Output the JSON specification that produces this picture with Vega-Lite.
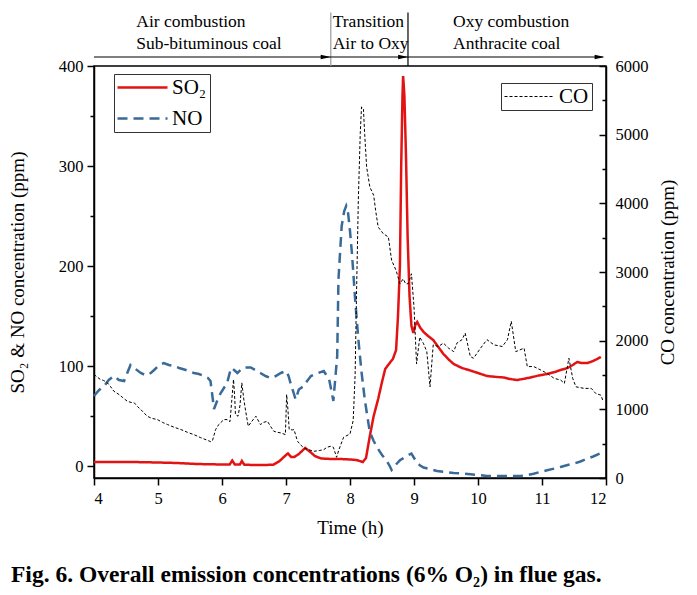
{
  "$schema": "https://vega.github.io/schema/vega-lite/v6.json",
  "width": 512,
  "height": 412,
  "autosize": "none",
  "padding": {"left": 94, "top": 66, "right": 91, "bottom": 117},
  "config": {
    "font": "Liberation Serif",
    "view": {"stroke": "black", "strokeWidth": 1.5},
    "axis": {"domainColor": "black", "domainWidth": 1.5, "tickColor": "black", "tickWidth": 1.5, "labelColor": "black", "titleColor": "black", "labelFont": "Liberation Serif", "titleFont": "Liberation Serif", "labelFontSize": 16.5, "titleFontSize": 19, "titleFontWeight": "normal", "grid": false},
    "legend": {"labelFont": "Liberation Serif", "labelFontSize": 21, "labelColor": "black"}
  },
  "title": {"text": "Fig. 6. Overall emission concentrations (6% O₂) in flue gas.", "orient": "bottom", "anchor": "start", "frame": "group", "font": "Liberation Serif", "fontSize": 23.5, "fontWeight": "bold", "color": "black", "dx": -83, "offset": 25},
  "datasets": {
    "gases": [
      {"t": 4.0, "v": 4, "s": "SO₂"}, {"t": 4.3, "v": 4, "s": "SO₂"}, {"t": 4.6, "v": 4, "s": "SO₂"}, {"t": 5.0, "v": 3.5, "s": "SO₂"}, {"t": 5.3, "v": 3, "s": "SO₂"}, {"t": 5.6, "v": 2, "s": "SO₂"}, {"t": 6.0, "v": 1.5, "s": "SO₂"}, {"t": 6.12, "v": 1.5, "s": "SO₂"}, {"t": 6.16, "v": 5.5, "s": "SO₂"}, {"t": 6.2, "v": 1.5, "s": "SO₂"}, {"t": 6.28, "v": 1.5, "s": "SO₂"}, {"t": 6.31, "v": 5, "s": "SO₂"}, {"t": 6.35, "v": 1.2, "s": "SO₂"}, {"t": 6.6, "v": 1, "s": "SO₂"}, {"t": 6.8, "v": 1.2, "s": "SO₂"}, {"t": 6.9, "v": 5, "s": "SO₂"}, {"t": 7.0, "v": 11, "s": "SO₂"}, {"t": 7.03, "v": 12.5, "s": "SO₂"}, {"t": 7.08, "v": 9, "s": "SO₂"}, {"t": 7.13, "v": 9, "s": "SO₂"}, {"t": 7.2, "v": 12, "s": "SO₂"}, {"t": 7.3, "v": 18, "s": "SO₂"}, {"t": 7.38, "v": 14, "s": "SO₂"}, {"t": 7.45, "v": 10, "s": "SO₂"}, {"t": 7.55, "v": 7.5, "s": "SO₂"}, {"t": 7.7, "v": 7, "s": "SO₂"}, {"t": 7.85, "v": 7, "s": "SO₂"}, {"t": 8.0, "v": 6.5, "s": "SO₂"}, {"t": 8.1, "v": 6, "s": "SO₂"}, {"t": 8.2, "v": 4, "s": "SO₂"}, {"t": 8.25, "v": 8, "s": "SO₂"}, {"t": 8.31, "v": 30, "s": "SO₂"}, {"t": 8.37, "v": 50, "s": "SO₂"}, {"t": 8.44, "v": 67, "s": "SO₂"}, {"t": 8.5, "v": 84, "s": "SO₂"}, {"t": 8.55, "v": 97, "s": "SO₂"}, {"t": 8.62, "v": 103, "s": "SO₂"}, {"t": 8.67, "v": 107, "s": "SO₂"}, {"t": 8.72, "v": 116, "s": "SO₂"}, {"t": 8.75, "v": 150, "s": "SO₂"}, {"t": 8.78, "v": 200, "s": "SO₂"}, {"t": 8.8, "v": 300, "s": "SO₂"}, {"t": 8.82, "v": 370, "s": "SO₂"}, {"t": 8.83, "v": 390, "s": "SO₂"}, {"t": 8.85, "v": 370, "s": "SO₂"}, {"t": 8.875, "v": 310, "s": "SO₂"}, {"t": 8.9, "v": 230, "s": "SO₂"}, {"t": 8.93, "v": 170, "s": "SO₂"}, {"t": 8.96, "v": 140, "s": "SO₂"}, {"t": 8.99, "v": 133, "s": "SO₂"}, {"t": 9.02, "v": 141, "s": "SO₂"}, {"t": 9.05, "v": 144, "s": "SO₂"}, {"t": 9.1, "v": 138, "s": "SO₂"}, {"t": 9.15, "v": 134, "s": "SO₂"}, {"t": 9.22, "v": 130, "s": "SO₂"}, {"t": 9.3, "v": 126, "s": "SO₂"}, {"t": 9.38, "v": 119, "s": "SO₂"}, {"t": 9.46, "v": 112, "s": "SO₂"}, {"t": 9.55, "v": 106, "s": "SO₂"}, {"t": 9.62, "v": 102, "s": "SO₂"}, {"t": 9.75, "v": 98, "s": "SO₂"}, {"t": 9.88, "v": 95.5, "s": "SO₂"}, {"t": 10.0, "v": 93, "s": "SO₂"}, {"t": 10.14, "v": 90, "s": "SO₂"}, {"t": 10.3, "v": 89, "s": "SO₂"}, {"t": 10.4, "v": 88.5, "s": "SO₂"}, {"t": 10.5, "v": 87, "s": "SO₂"}, {"t": 10.61, "v": 86, "s": "SO₂"}, {"t": 10.7, "v": 87, "s": "SO₂"}, {"t": 10.82, "v": 88.5, "s": "SO₂"}, {"t": 10.95, "v": 90.5, "s": "SO₂"}, {"t": 11.08, "v": 92, "s": "SO₂"}, {"t": 11.2, "v": 94, "s": "SO₂"}, {"t": 11.29, "v": 96, "s": "SO₂"}, {"t": 11.4, "v": 98, "s": "SO₂"}, {"t": 11.48, "v": 101, "s": "SO₂"}, {"t": 11.55, "v": 104, "s": "SO₂"}, {"t": 11.62, "v": 103, "s": "SO₂"}, {"t": 11.71, "v": 103, "s": "SO₂"}, {"t": 11.8, "v": 105, "s": "SO₂"}, {"t": 11.92, "v": 109, "s": "SO₂"},
      {"t": 4.0, "v": 70, "s": "NO"}, {"t": 4.08, "v": 76, "s": "NO"}, {"t": 4.16, "v": 80, "s": "NO"}, {"t": 4.23, "v": 86, "s": "NO"}, {"t": 4.31, "v": 90, "s": "NO"}, {"t": 4.39, "v": 86, "s": "NO"}, {"t": 4.47, "v": 85, "s": "NO"}, {"t": 4.52, "v": 93, "s": "NO"}, {"t": 4.57, "v": 101, "s": "NO"}, {"t": 4.65, "v": 97, "s": "NO"}, {"t": 4.73, "v": 93, "s": "NO"}, {"t": 4.8, "v": 91, "s": "NO"}, {"t": 4.86, "v": 91.5, "s": "NO"}, {"t": 4.94, "v": 96, "s": "NO"}, {"t": 5.02, "v": 101, "s": "NO"}, {"t": 5.09, "v": 103, "s": "NO"}, {"t": 5.17, "v": 101, "s": "NO"}, {"t": 5.25, "v": 100, "s": "NO"}, {"t": 5.33, "v": 98, "s": "NO"}, {"t": 5.41, "v": 96.5, "s": "NO"}, {"t": 5.48, "v": 95, "s": "NO"}, {"t": 5.56, "v": 93, "s": "NO"}, {"t": 5.64, "v": 92, "s": "NO"}, {"t": 5.72, "v": 90, "s": "NO"}, {"t": 5.78, "v": 88, "s": "NO"}, {"t": 5.82, "v": 85, "s": "NO"}, {"t": 5.85, "v": 70, "s": "NO"}, {"t": 5.875, "v": 57, "s": "NO"}, {"t": 5.93, "v": 66, "s": "NO"}, {"t": 5.98, "v": 73, "s": "NO"}, {"t": 6.03, "v": 78, "s": "NO"}, {"t": 6.08, "v": 83, "s": "NO"}, {"t": 6.14, "v": 98, "s": "NO"}, {"t": 6.19, "v": 96, "s": "NO"}, {"t": 6.24, "v": 93, "s": "NO"}, {"t": 6.29, "v": 96, "s": "NO"}, {"t": 6.34, "v": 98.5, "s": "NO"}, {"t": 6.45, "v": 98.5, "s": "NO"}, {"t": 6.52, "v": 96, "s": "NO"}, {"t": 6.6, "v": 93, "s": "NO"}, {"t": 6.68, "v": 90, "s": "NO"}, {"t": 6.76, "v": 88, "s": "NO"}, {"t": 6.84, "v": 90, "s": "NO"}, {"t": 6.92, "v": 93, "s": "NO"}, {"t": 7.0, "v": 95, "s": "NO"}, {"t": 7.04, "v": 90, "s": "NO"}, {"t": 7.07, "v": 83, "s": "NO"}, {"t": 7.12, "v": 73, "s": "NO"}, {"t": 7.15, "v": 66.5, "s": "NO"}, {"t": 7.2, "v": 76.5, "s": "NO"}, {"t": 7.28, "v": 80, "s": "NO"}, {"t": 7.33, "v": 85, "s": "NO"}, {"t": 7.39, "v": 90, "s": "NO"}, {"t": 7.5, "v": 93, "s": "NO"}, {"t": 7.59, "v": 95, "s": "NO"}, {"t": 7.64, "v": 90, "s": "NO"}, {"t": 7.67, "v": 88, "s": "NO"}, {"t": 7.72, "v": 72, "s": "NO"}, {"t": 7.74, "v": 65, "s": "NO"}, {"t": 7.78, "v": 95, "s": "NO"}, {"t": 7.8, "v": 110, "s": "NO"}, {"t": 7.82, "v": 187, "s": "NO"}, {"t": 7.87, "v": 240, "s": "NO"}, {"t": 7.91, "v": 255, "s": "NO"}, {"t": 7.94, "v": 260, "s": "NO"}, {"t": 7.97, "v": 253, "s": "NO"}, {"t": 8.0, "v": 235, "s": "NO"}, {"t": 8.03, "v": 213, "s": "NO"}, {"t": 8.08, "v": 167, "s": "NO"}, {"t": 8.13, "v": 127, "s": "NO"}, {"t": 8.18, "v": 94, "s": "NO"}, {"t": 8.23, "v": 67, "s": "NO"}, {"t": 8.27, "v": 50, "s": "NO"}, {"t": 8.31, "v": 34, "s": "NO"}, {"t": 8.37, "v": 25, "s": "NO"}, {"t": 8.44, "v": 17, "s": "NO"}, {"t": 8.5, "v": 11, "s": "NO"}, {"t": 8.57, "v": 5.7, "s": "NO"}, {"t": 8.62, "v": 0, "s": "NO"}, {"t": 8.65, "v": -4, "s": "NO"}, {"t": 8.7, "v": 0, "s": "NO"}, {"t": 8.74, "v": 3, "s": "NO"}, {"t": 8.78, "v": 5.7, "s": "NO"}, {"t": 8.84, "v": 8, "s": "NO"}, {"t": 8.9, "v": 10.5, "s": "NO"}, {"t": 8.96, "v": 12.4, "s": "NO"}, {"t": 9.02, "v": 6, "s": "NO"}, {"t": 9.09, "v": 0.7, "s": "NO"}, {"t": 9.15, "v": -1.5, "s": "NO"}, {"t": 9.25, "v": -3, "s": "NO"}, {"t": 9.36, "v": -5, "s": "NO"}, {"t": 9.5, "v": -6, "s": "NO"}, {"t": 9.62, "v": -7, "s": "NO"}, {"t": 9.75, "v": -7.5, "s": "NO"}, {"t": 9.88, "v": -8.3, "s": "NO"}, {"t": 10.0, "v": -9, "s": "NO"}, {"t": 10.14, "v": -10, "s": "NO"}, {"t": 10.4, "v": -10, "s": "NO"}, {"t": 10.66, "v": -10, "s": "NO"}, {"t": 10.77, "v": -9, "s": "NO"}, {"t": 10.87, "v": -7.7, "s": "NO"}, {"t": 10.97, "v": -6, "s": "NO"}, {"t": 11.08, "v": -4.3, "s": "NO"}, {"t": 11.2, "v": -2.5, "s": "NO"}, {"t": 11.29, "v": -1, "s": "NO"}, {"t": 11.4, "v": 1, "s": "NO"}, {"t": 11.5, "v": 2.4, "s": "NO"}, {"t": 11.6, "v": 4.5, "s": "NO"}, {"t": 11.71, "v": 7.4, "s": "NO"}, {"t": 11.8, "v": 9.5, "s": "NO"}, {"t": 11.92, "v": 13, "s": "NO"}, {"t": 11.95, "v": 15, "s": "NO"}
    ],
    "co": [
      {"t": 4.0, "c": 1508}, {"t": 4.05, "c": 1470}, {"t": 4.1, "c": 1435}, {"t": 4.15, "c": 1420}, {"t": 4.21, "c": 1385}, {"t": 4.26, "c": 1330}, {"t": 4.31, "c": 1264}, {"t": 4.35, "c": 1240}, {"t": 4.39, "c": 1216}, {"t": 4.45, "c": 1170}, {"t": 4.52, "c": 1118}, {"t": 4.58, "c": 1100}, {"t": 4.63, "c": 1094}, {"t": 4.68, "c": 1040}, {"t": 4.73, "c": 997}, {"t": 4.78, "c": 950}, {"t": 4.83, "c": 900}, {"t": 4.9, "c": 870}, {"t": 4.99, "c": 851}, {"t": 5.07, "c": 810}, {"t": 5.15, "c": 778}, {"t": 5.25, "c": 740}, {"t": 5.36, "c": 705}, {"t": 5.46, "c": 665}, {"t": 5.56, "c": 632}, {"t": 5.66, "c": 590}, {"t": 5.77, "c": 550}, {"t": 5.82, "c": 530}, {"t": 5.85, "c": 540}, {"t": 5.88, "c": 640}, {"t": 5.9, "c": 705}, {"t": 5.95, "c": 780}, {"t": 6.03, "c": 851}, {"t": 6.08, "c": 851}, {"t": 6.125, "c": 821}, {"t": 6.15, "c": 1100}, {"t": 6.18, "c": 1435}, {"t": 6.2, "c": 1150}, {"t": 6.21, "c": 924}, {"t": 6.25, "c": 900}, {"t": 6.28, "c": 1050}, {"t": 6.31, "c": 1385}, {"t": 6.34, "c": 1150}, {"t": 6.37, "c": 972}, {"t": 6.41, "c": 754}, {"t": 6.47, "c": 830}, {"t": 6.53, "c": 900}, {"t": 6.6, "c": 778}, {"t": 6.65, "c": 810}, {"t": 6.71, "c": 826}, {"t": 6.76, "c": 750}, {"t": 6.81, "c": 680}, {"t": 6.87, "c": 665}, {"t": 6.92, "c": 656}, {"t": 6.99, "c": 632}, {"t": 7.0, "c": 900}, {"t": 7.01, "c": 1216}, {"t": 7.03, "c": 1000}, {"t": 7.05, "c": 705}, {"t": 7.1, "c": 700}, {"t": 7.125, "c": 705}, {"t": 7.18, "c": 535}, {"t": 7.23, "c": 480}, {"t": 7.28, "c": 437}, {"t": 7.36, "c": 410}, {"t": 7.44, "c": 389}, {"t": 7.52, "c": 400}, {"t": 7.59, "c": 413}, {"t": 7.64, "c": 448}, {"t": 7.7, "c": 462}, {"t": 7.74, "c": 448}, {"t": 7.79, "c": 302}, {"t": 7.83, "c": 420}, {"t": 7.9, "c": 593}, {"t": 8.0, "c": 642}, {"t": 8.05, "c": 837}, {"t": 8.08, "c": 1500}, {"t": 8.1, "c": 2587}, {"t": 8.13, "c": 4045}, {"t": 8.16, "c": 5016}, {"t": 8.18, "c": 5405}, {"t": 8.21, "c": 5370}, {"t": 8.23, "c": 5000}, {"t": 8.26, "c": 4530}, {"t": 8.31, "c": 4238}, {"t": 8.37, "c": 4117}, {"t": 8.4, "c": 3900}, {"t": 8.44, "c": 3655}, {"t": 8.52, "c": 3558}, {"t": 8.6, "c": 3509}, {"t": 8.65, "c": 3170}, {"t": 8.72, "c": 3024}, {"t": 8.78, "c": 2829}, {"t": 8.83, "c": 2900}, {"t": 8.87, "c": 2829}, {"t": 8.91, "c": 2829}, {"t": 8.96, "c": 2974}, {"t": 9.0, "c": 2489}, {"t": 9.04, "c": 1662}, {"t": 9.09, "c": 2051}, {"t": 9.15, "c": 1954}, {"t": 9.2, "c": 1841}, {"t": 9.25, "c": 1328}, {"t": 9.3, "c": 1939}, {"t": 9.38, "c": 1915}, {"t": 9.46, "c": 1964}, {"t": 9.54, "c": 1891}, {"t": 9.62, "c": 1841}, {"t": 9.67, "c": 1964}, {"t": 9.75, "c": 2014}, {"t": 9.8, "c": 2110}, {"t": 9.88, "c": 1768}, {"t": 9.93, "c": 1744}, {"t": 10.04, "c": 1891}, {"t": 10.14, "c": 2014}, {"t": 10.25, "c": 1939}, {"t": 10.38, "c": 1915}, {"t": 10.46, "c": 2014}, {"t": 10.52, "c": 2282}, {"t": 10.59, "c": 1841}, {"t": 10.72, "c": 1891}, {"t": 10.77, "c": 1623}, {"t": 10.87, "c": 1623}, {"t": 10.98, "c": 1573}, {"t": 11.08, "c": 1524}, {"t": 11.19, "c": 1451}, {"t": 11.29, "c": 1427}, {"t": 11.35, "c": 1378}, {"t": 11.42, "c": 1744}, {"t": 11.48, "c": 1451}, {"t": 11.53, "c": 1328}, {"t": 11.66, "c": 1305}, {"t": 11.77, "c": 1305}, {"t": 11.84, "c": 1231}, {"t": 11.92, "c": 1206}, {"t": 11.95, "c": 1130}
    ],
    "phaseText": [
      {"t": 4.66, "v": 443.6, "label": "Air combustion"},
      {"t": 4.66, "v": 421.7, "label": "Sub-bituminous coal"},
      {"t": 7.73, "v": 443.6, "label": "Transition"},
      {"t": 7.73, "v": 421.7, "label": "Air to Oxy"},
      {"t": 9.61, "v": 443.6, "label": "Oxy combustion"},
      {"t": 9.61, "v": 421.7, "label": "Anthracite coal"}
    ],
    "phaseLines": [
      {"t": 7.70, "v": 400, "v2": 453.5, "kind": "a"},
      {"t": 8.906, "v": 400, "v2": 453.5, "kind": "b"}
    ],
    "arrowLine": [{"t": 4.0, "t2": 11.95, "v": 409}],
    "arrowHeads": [{"t": 7.62, "v": 409}, {"t": 8.83, "v": 409}, {"t": 11.9, "v": 409}]
  },
  "layer": [
    {
      "layer": [
        {
          "data": {"name": "gases"},
          "mark": {"type": "line", "strokeWidth": 2.5},
          "encoding": {
            "x": {"field": "t", "type": "quantitative", "scale": {"domain": [4, 12], "nice": false, "zero": false},
              "axis": {"title": "Time (h)", "values": [4, 4.5, 5, 5.5, 6, 6.5, 7, 7.5, 8, 8.5, 9, 9.5, 10, 10.5, 11, 11.5, 12],
                "labelExpr": "datum.value % 1 === 0 ? format(datum.value, 'd') : ''",
                "tickSize": {"condition": {"test": "datum.value % 1 === 0", "value": 7}, "value": 4},
                "labelPadding": 5, "titlePadding": 12}},
            "y": {"field": "v", "type": "quantitative", "scale": {"domain": [-12, 400], "nice": false, "zero": false},
              "axis": {"title": "SO₂ & NO concentration (ppm)", "values": [0, 50, 100, 150, 200, 250, 300, 350, 400],
                "labelExpr": "datum.value % 100 === 0 ? format(datum.value, 'd') : ''",
                "tickSize": {"condition": {"test": "datum.value % 100 === 0", "value": 7}, "value": 4},
                "labelPadding": 4, "titlePadding": 31}},
            "color": {"field": "s", "type": "nominal", "scale": {"domain": ["SO₂", "NO"], "range": ["#e31313", "#3a6a97"]},
              "legend": {"title": null, "orient": "none", "legendX": 20, "legendY": 8, "symbolType": "M-2,0H8", "symbolSize": 100, "symbolStrokeWidth": 2.5, "strokeColor": "#333", "padding": 3, "labelOffset": 34, "rowPadding": 9, "labelFontSize": 21}},
            "strokeDash": {"field": "s", "type": "nominal", "scale": {"domain": ["SO₂", "NO"], "range": [[1, 0], [10, 6]]},
              "legend": {"title": null, "orient": "none", "legendX": 20, "legendY": 8, "symbolType": "M-2,0H8", "symbolSize": 100, "symbolStrokeWidth": 2.5, "strokeColor": "#333", "padding": 3, "labelOffset": 34, "rowPadding": 9, "labelFontSize": 21}}
          }
        },
        {
          "data": {"name": "phaseLines"},
          "mark": {"type": "rule", "strokeWidth": 1.2},
          "encoding": {
            "x": {"field": "t", "type": "quantitative"},
            "y": {"field": "v", "type": "quantitative", "scale": {"domain": [-12, 400], "nice": false, "zero": false}},
            "y2": {"field": "v2"},
            "stroke": {"field": "kind", "type": "nominal", "scale": {"domain": ["a", "b"], "range": ["#9a9a9a", "black"]}, "legend": null}
          }
        },
        {
          "data": {"name": "arrowLine"},
          "mark": {"type": "rule", "strokeWidth": 1.2, "color": "black"},
          "encoding": {
            "x": {"field": "t", "type": "quantitative"},
            "x2": {"field": "t2"},
            "y": {"field": "v", "type": "quantitative", "scale": {"domain": [-12, 400], "nice": false, "zero": false}}
          }
        },
        {
          "data": {"name": "arrowHeads"},
          "mark": {"type": "point", "shape": "M1,0L-1,-0.45L-1,0.45Z", "filled": true, "color": "black", "opacity": 1, "size": 100},
          "encoding": {
            "x": {"field": "t", "type": "quantitative"},
            "y": {"field": "v", "type": "quantitative", "scale": {"domain": [-12, 400], "nice": false, "zero": false}}
          }
        },
        {
          "data": {"name": "phaseText"},
          "mark": {"type": "text", "align": "left", "baseline": "middle", "font": "Liberation Serif", "fontSize": 17.5, "color": "black"},
          "encoding": {
            "x": {"field": "t", "type": "quantitative"},
            "y": {"field": "v", "type": "quantitative", "scale": {"domain": [-12, 400], "nice": false, "zero": false}},
            "text": {"field": "label"}
          }
        }
      ]
    },
    {
      "data": {"name": "co"},
      "transform": [{"calculate": "'CO'", "as": "s"}],
      "mark": {"type": "line", "strokeWidth": 1},
      "encoding": {
        "x": {"field": "t", "type": "quantitative"},
        "y": {"field": "c", "type": "quantitative", "scale": {"domain": [0, 6000], "nice": false, "zero": false},
          "axis": {"orient": "right", "title": "CO concentration (ppm)", "values": [0, 500, 1000, 1500, 2000, 2500, 3000, 3500, 4000, 4500, 5000, 5500, 6000],
            "labelExpr": "datum.value % 1000 === 0 ? format(datum.value, 'd') : ''",
            "tickSize": {"condition": {"test": "datum.value % 1000 === 0", "value": -7}, "value": -4},
            "labelPadding": 16, "titleAngle": 270, "titleBaseline": "top", "titlePadding": 10}},
        "color": {"field": "s", "type": "nominal", "scale": {"domain": ["CO"], "range": ["black"]},
          "legend": {"title": null, "orient": "none", "legendX": 407, "legendY": 17, "symbolType": "M-2,0H8", "symbolSize": 100, "symbolStrokeWidth": 1, "strokeColor": "#333", "padding": 3, "labelOffset": 34, "labelFontSize": 21}},
        "strokeDash": {"field": "s", "type": "nominal", "scale": {"domain": ["CO"], "range": [[3, 2]]},
          "legend": {"title": null, "orient": "none", "legendX": 407, "legendY": 17, "symbolType": "M-2,0H8", "symbolSize": 100, "symbolStrokeWidth": 1, "strokeColor": "#333", "padding": 3, "labelOffset": 34, "labelFontSize": 21}}
      }
    }
  ],
  "resolve": {"scale": {"y": "independent", "color": "independent", "strokeDash": "independent"}}
}
